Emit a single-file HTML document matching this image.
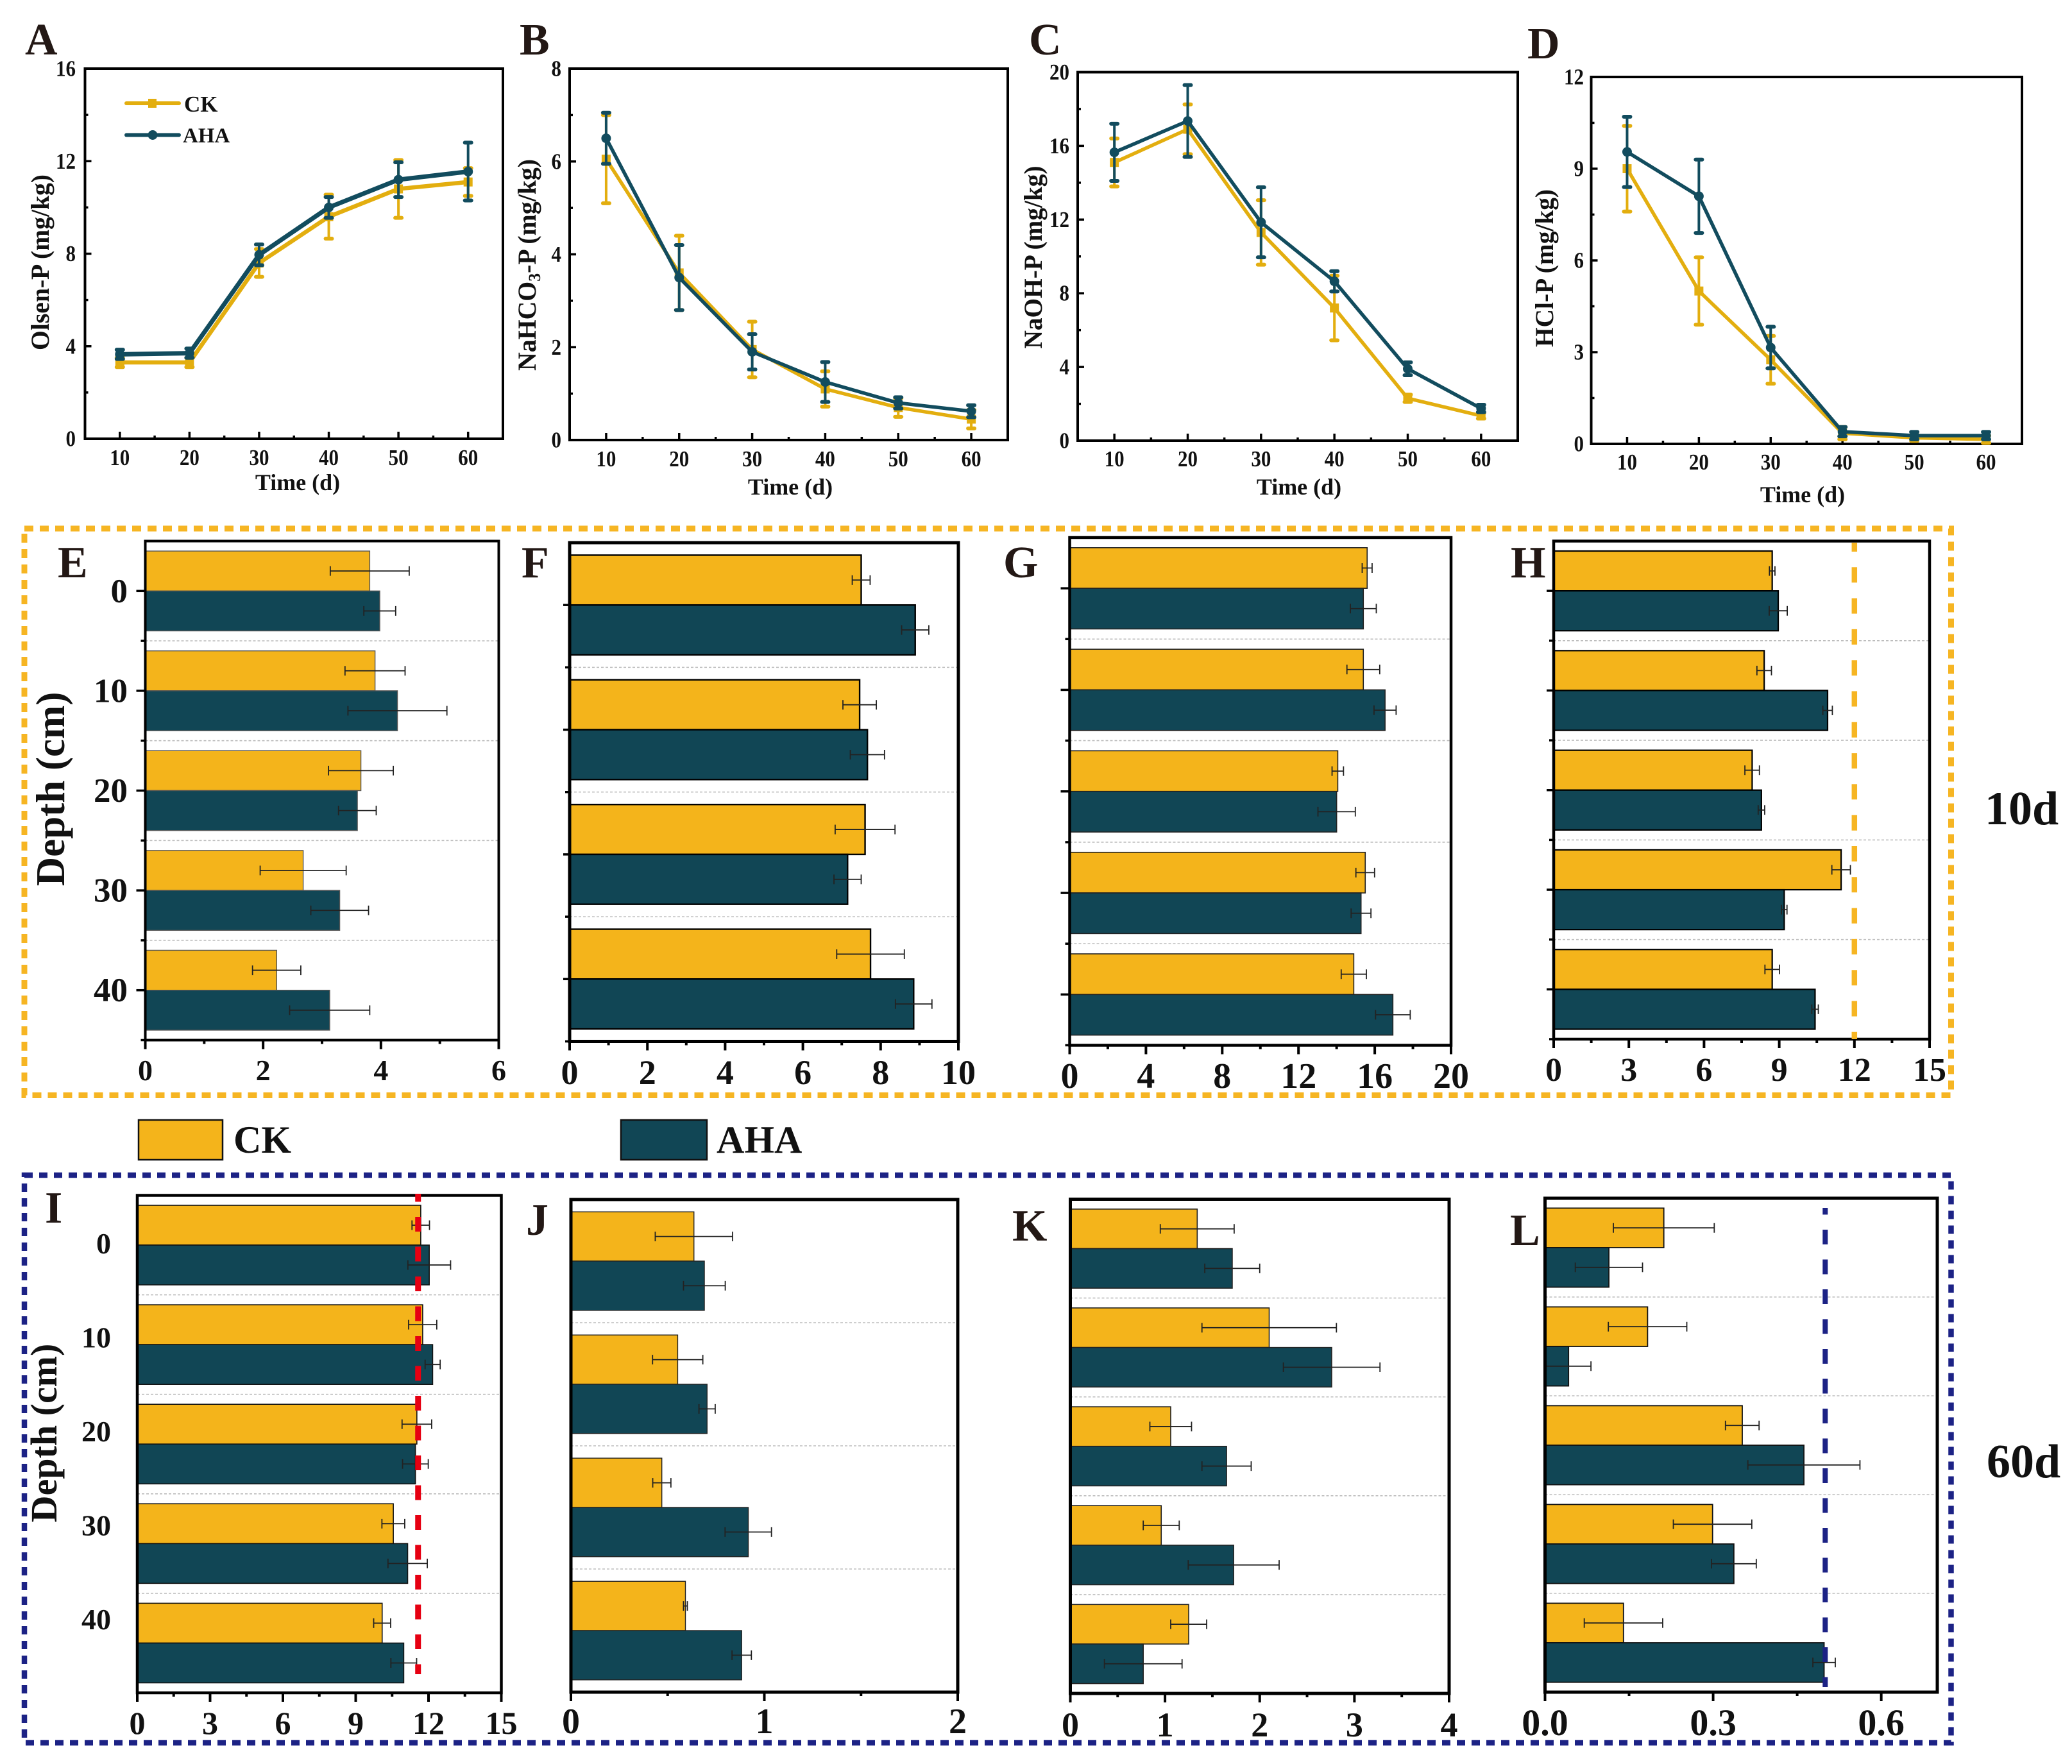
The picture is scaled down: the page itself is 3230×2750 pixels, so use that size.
<!DOCTYPE html>
<html lang="en">
<head>
<meta charset="utf-8">
<title>Soil phosphorus fractions CK vs AHA</title>
<style>
html,body{margin:0;padding:0;background:#fff;}
svg{display:block;}
text{font-family:"Liberation Serif",serif;font-weight:bold;fill:#111;}
.letter{font-size:70px;fill:#231815;}
.time{font-size:36px;text-anchor:middle;}
.ytitle{font-size:40px;text-anchor:middle;}
</style>
</head>
<body>
<svg id="figure" xmlns="http://www.w3.org/2000/svg" width="3230" height="2750" viewBox="0 0 3230 2750">
  <rect x="0" y="0" width="3230" height="2750" fill="#fff"/>
  <g id="charts"></g>
  <rect x="2294" y="1650" width="32" height="56" fill="#fff"/>

  <rect x="38" y="824" width="3003.5" height="883.5" fill="none" stroke="#f6b523" stroke-width="9" stroke-dasharray="14 10"/>
  <rect x="38" y="1832" width="3003.5" height="885" fill="none" stroke="#1c2285" stroke-width="8.5" stroke-dasharray="13 10"/>

  <text class="letter" x="39" y="85">A</text>
  <text class="letter" x="810" y="85">B</text>
  <text class="letter" x="1604" y="85">C</text>
  <text class="letter" x="2381" y="91">D</text>
  <text class="letter" x="90" y="900">E</text>
  <text class="letter" x="813" y="900">F</text>
  <text class="letter" x="1564" y="900">G</text>
  <text class="letter" x="2355" y="900">H</text>
  <text class="letter" x="70" y="1906">I</text>
  <text class="letter" x="820" y="1925">J</text>
  <text class="letter" x="1578" y="1934">K</text>
  <text class="letter" x="2354" y="1941">L</text>

  <text class="time" x="464" y="764">Time (d)</text>
  <text class="time" x="1232" y="771">Time (d)</text>
  <text class="time" x="2025" y="771">Time (d)</text>
  <text class="time" x="2810" y="783">Time (d)</text>

  <text class="ytitle" transform="translate(76,409) rotate(-90)" textLength="274" lengthAdjust="spacingAndGlyphs">Olsen-P (mg/kg)</text>
  <text class="ytitle" transform="translate(835,413) rotate(-90)" textLength="330" lengthAdjust="spacingAndGlyphs">NaHCO<tspan dy="7" font-size="26">3</tspan><tspan dy="-7">-P (mg/kg)</tspan></text>
  <text class="ytitle" transform="translate(1624,401) rotate(-90)" textLength="285" lengthAdjust="spacingAndGlyphs">NaOH-P (mg/kg)</text>
  <text class="ytitle" transform="translate(2421,418) rotate(-90)" textLength="246" lengthAdjust="spacingAndGlyphs">HCl-P (mg/kg)</text>

  <text transform="translate(100,1230) rotate(-90)" text-anchor="middle" font-size="63">Depth (cm)</text>
  <text transform="translate(88,2234) rotate(-90)" text-anchor="middle" font-size="58">Depth (cm)</text>

  <g>
    <line x1="197" y1="161" x2="279" y2="161" stroke="#e3ae0f" stroke-width="6" stroke-linecap="round"/>
    <rect x="231" y="154" width="13" height="14" fill="#e3ae0f"/>
    <text x="287" y="174" font-size="35">CK</text>
    <line x1="197" y1="210.5" x2="279" y2="210.5" stroke="#124c5e" stroke-width="6" stroke-linecap="round"/>
    <circle cx="238" cy="210.5" r="7.5" fill="#124c5e"/>
    <text x="285" y="222" font-size="33">AHA</text>
  </g>

  <g>
    <rect x="216" y="1746" width="131" height="62" fill="#f4b41b" stroke="#111" stroke-width="2.5"/>
    <text x="364" y="1797" font-size="60">CK</text>
    <rect x="968" y="1746" width="134" height="62" fill="#114655" stroke="#111" stroke-width="2.5"/>
    <text x="1117" y="1797" font-size="60">AHA</text>
  </g>

  <text x="3094" y="1285" font-size="74" fill="#231815">10d</text>
  <text x="3097" y="2303" font-size="74" fill="#231815">60d</text>
</svg>

<script>
const days = [10, 20, 30, 40, 50, 60];
const depths5 = [0, 10, 20, 30, 40];
const depths4 = [0, 10, 20, 30];

const aTicks = [0, 4, 8, 12, 16];
const aCk = [3.3, 3.3, 7.6, 9.6, 10.8, 11.1];
const aCkErr = [0.2, 0.2, 0.6, 0.95, 1.25, 0.6];
const aAha = [3.65, 3.7, 7.95, 10.0, 11.2, 11.55];
const aAhaErr = [0.2, 0.2, 0.45, 0.45, 0.75, 1.25];

const bTicks = [0, 2, 4, 6, 8];
const bCk = [6.05, 3.6, 1.95, 1.1, 0.7, 0.45];
const bCkErr = [0.95, 0.8, 0.6, 0.38, 0.2, 0.2];
const bAha = [6.5, 3.5, 1.9, 1.25, 0.8, 0.62];
const bAhaErr = [0.55, 0.7, 0.38, 0.43, 0.12, 0.13];

const cTicks = [0, 4, 8, 12, 16, 20];
const cCk = [15.1, 16.9, 11.3, 7.2, 2.3, 1.35];
const cCkErr = [1.3, 1.35, 1.75, 1.75, 0.2, 0.15];
const cAha = [15.65, 17.35, 11.85, 8.65, 3.9, 1.75];
const cAhaErr = [1.55, 1.95, 1.9, 0.55, 0.35, 0.2];

const dTicks = [0, 3, 6, 9, 12];
const dCk = [9.0, 5.0, 2.75, 0.35, 0.2, 0.15];
const dCkErr = [1.4, 1.1, 0.78, 0.2, 0.1, 0.12];
const dAha = [9.55, 8.1, 3.15, 0.4, 0.27, 0.27];
const dAhaErr = [1.15, 1.2, 0.68, 0.15, 0.12, 0.12];

const eTicks = ["0", "2", "4", "6"];
const eCk = [3.81, 3.9, 3.66, 2.68, 2.23];
const eCkErr = [0.67, 0.51, 0.55, 0.73, 0.41];
const eAha = [3.98, 4.28, 3.6, 3.3, 3.13];
const eAhaErr = [0.27, 0.84, 0.32, 0.49, 0.68];

const fTicks = ["0", "2", "4", "6", "8", "10"];
const fCk = [7.5, 7.46, 7.6, 7.74];
const fCkErr = [0.23, 0.43, 0.77, 0.87];
const fAha = [8.89, 7.66, 7.15, 8.85];
const fAhaErr = [0.35, 0.44, 0.35, 0.47];

const gTicks = ["0", "4", "8", "12", "16", "20"];
const gCk = [15.6, 15.4, 14.06, 15.5, 14.9];
const gCkErr = [0.26, 0.86, 0.3, 0.49, 0.66];
const gAha = [15.4, 16.54, 14.0, 15.28, 16.95];
const gAhaErr = [0.68, 0.58, 0.98, 0.52, 0.91];

const hTicks = ["0", "3", "6", "9", "12", "15"];
const hCk = [8.72, 8.4, 7.92, 11.47, 8.72];
const hCkErr = [0.11, 0.29, 0.29, 0.37, 0.29];
const hAha = [8.96, 10.93, 8.29, 9.2, 10.43];
const hAhaErr = [0.36, 0.19, 0.13, 0.11, 0.13];

const iTicks = ["0", "3", "6", "9", "12", "15"];
const iCk = [11.68, 11.76, 11.52, 10.55, 10.09];
const iCkErr = [0.36, 0.58, 0.61, 0.47, 0.35];
const iAha = [12.03, 12.17, 11.46, 11.14, 10.98];
const iAhaErr = [0.88, 0.31, 0.53, 0.81, 0.53];

const jTicks = ["0", "1", "2"];
const jCk = [0.636, 0.552, 0.47, 0.592];
const jCkErr = [0.2, 0.13, 0.047, 0.01];
const jAha = [0.69, 0.704, 0.917, 0.883];
const jAhaErr = [0.108, 0.042, 0.12, 0.05];

const kTicks = ["0", "1", "2", "3", "4"];
const kCk = [1.34, 2.1, 1.06, 0.96, 1.25];
const kCkErr = [0.39, 0.71, 0.22, 0.19, 0.19];
const kAha = [1.71, 2.76, 1.65, 1.725, 0.77];
const kAhaErr = [0.29, 0.51, 0.26, 0.48, 0.41];

const lTicks = ["0.0", "0.3", "0.6"];
const lCk = [0.212, 0.183, 0.352, 0.299, 0.14];
const lCkErr = [0.09, 0.07, 0.03, 0.07, 0.07];
const lAha = [0.114, 0.042, 0.462, 0.337, 0.498];
const lAhaErr = [0.06, 0.04, 0.1, 0.04, 0.02];

const NS = 'http://www.w3.org/2000/svg';
const root = document.getElementById('charts');
const CK_LINE = '#e3ae0f', AHA_LINE = '#124c5e', CK_BAR = '#f4b41b', AHA_BAR = '#114655';

function make(parent, tag, attrs, txt) {
  const el = document.createElementNS(NS, tag);
  for (const k in attrs) el.setAttribute(k, attrs[k]);
  if (txt !== undefined) el.textContent = txt;
  parent.appendChild(el);
  return el;
}

function drawSeries(g, name, xs, vals, errs, sx, sy, color, lineW, circle) {
  const series = make(g, 'g', {});
  
  
  const line = make(series, 'polyline', {
    points: xs.map((x, i) => sx(x) + ',' + sy(vals[i])).join(' '),
    fill: 'none', stroke: color, 'stroke-width': lineW, 'stroke-linejoin': 'round'
  });
  
  
  xs.forEach((x, i) => {
    const px = sx(x), hi = sy(vals[i] + errs[i]), lo = sy(vals[i] - errs[i]);
    const err = make(series, 'line', { x1: px, x2: px, y1: hi, y2: lo, stroke: color, 'stroke-width': 4 });
    
    
    const capHi = make(series, 'line', { x1: px - 5, x2: px + 5, y1: hi, y2: hi, stroke: color, 'stroke-width': 6, 'stroke-linecap': 'round' });
    
    
    const capLo = make(series, 'line', { x1: px - 5, x2: px + 5, y1: lo, y2: lo, stroke: color, 'stroke-width': 6, 'stroke-linecap': 'round' });
    
    
    let mark;
    if (circle) {
      mark = make(series, 'circle', { cx: px, cy: sy(vals[i]), r: 7.5, fill: color });
    } else {
      mark = make(series, 'rect', { x: px - 7, y: sy(vals[i]) - 7, width: 14, height: 14, fill: color });
    }
    
    
  });
}

function drawLinePanel(cfg, xVals, ck, ckErr, aha, ahaErr, ticks) {
  const g = make(root, 'g', {});
  
  
  const sx = v => cfg.left + (v - 5) / 60 * (cfg.right - cfg.left);
  const ymax = ticks[ticks.length - 1];
  const sy = v => cfg.bottom - v / ymax * (cfg.bottom - cfg.top);
  const frame = make(g, 'rect', { x: cfg.left, y: cfg.top, width: cfg.right - cfg.left, height: cfg.bottom - cfg.top, fill: 'none', stroke: '#000', 'stroke-width': 4 });
  
  
  xVals.forEach((d, i) => {
    const t = make(g, 'line', { x1: sx(d), x2: sx(d), y1: cfg.bottom, y2: cfg.bottom - 11, stroke: '#000', 'stroke-width': 3.5 });
    
    
    const lab = make(g, 'text', { x: sx(d), y: cfg.xLabelY, 'text-anchor': 'middle', 'font-size': 35, textLength: 31, lengthAdjust: 'spacingAndGlyphs' }, String(d));
    
    
    if (i < xVals.length - 1) {
      const m = make(g, 'line', { x1: sx(d + 5), x2: sx(d + 5), y1: cfg.bottom, y2: cfg.bottom - 5, stroke: '#000', 'stroke-width': 3.5 });
      
      
    }
  });
  ticks.forEach((v, i) => {
    if (i > 0 && i < ticks.length - 1) {
      const t = make(g, 'line', { x1: cfg.left, x2: cfg.left + 10, y1: sy(v), y2: sy(v), stroke: '#000', 'stroke-width': 3.5 });
      
      
    }
    const label = String(v);
    const lab = make(g, 'text', { x: cfg.yLabelX, y: sy(v) + 11.5, 'text-anchor': 'end', 'font-size': 35, textLength: 15.5 * label.length, lengthAdjust: 'spacingAndGlyphs' }, label);
    
    
    if (i < ticks.length - 1) {
      const m = make(g, 'line', { x1: cfg.left, x2: cfg.left + 5, y1: sy((v + ticks[i + 1]) / 2), y2: sy((v + ticks[i + 1]) / 2), stroke: '#000', 'stroke-width': 3.5 });
      
      
    }
  });
  drawSeries(g, 'ck', xVals, ck, ckErr, sx, sy, CK_LINE, cfg.ckW, false);
  drawSeries(g, 'aha', xVals, aha, ahaErr, sx, sy, AHA_LINE, cfg.ahaW, true);
}

function drawBarPanel(cfg, depths, ck, ckErr, aha, ahaErr, ticks) {
  const g = make(root, 'g', {});
  
  
  const sx = v => cfg.left + v / cfg.xmax * (cfg.right - cfg.left);
  const dmax = depths[depths.length - 1] + 5;
  const sy = d => cfg.top + (d + 5) / (dmax + 5) * (cfg.bottom - cfg.top);

  depths.forEach((d, i) => {
    if (i < depths.length - 1) {
      const grid = make(g, 'line', { x1: cfg.left, x2: cfg.right, y1: sy(d + 5), y2: sy(d + 5), stroke: '#bdbdbd', 'stroke-width': 1.6, 'stroke-dasharray': '4 3' });
      
      
    }
    const ckBar = make(g, 'rect', { x: cfg.left, y: sy(d - 4), width: sx(ck[i]) - cfg.left, height: sy(d) - sy(d - 4), fill: CK_BAR, stroke: cfg.barStroke, 'stroke-width': cfg.barW });
    
    
    const ahaBar = make(g, 'rect', { x: cfg.left, y: sy(d), width: sx(aha[i]) - cfg.left, height: sy(d + 4) - sy(d), fill: AHA_BAR, stroke: cfg.barStroke, 'stroke-width': cfg.barW });
    
    
    const pairs = [[ck[i], ckErr[i], d - 2], [aha[i], ahaErr[i], d + 2]];
    pairs.forEach(p => {
      const y = sy(p[2]);
      const e = make(g, 'path', {
        d: 'M' + sx(p[0] - p[1]) + ' ' + y + 'H' + sx(p[0] + p[1]) +
           'M' + sx(p[0] - p[1]) + ' ' + (y - 7.5) + 'V' + (y + 7.5) +
           'M' + sx(p[0] + p[1]) + ' ' + (y - 7.5) + 'V' + (y + 7.5),
        fill: 'none', stroke: '#222', 'stroke-width': 1.8
      });
      
      
    });
    if (cfg.majorOut) {
      const t = make(g, 'line', { x1: cfg.left, x2: cfg.left - cfg.majorOut, y1: sy(d), y2: sy(d), stroke: '#000', 'stroke-width': 3.5 });
      
      
      const m = make(g, 'line', { x1: cfg.left, x2: cfg.left - 7, y1: sy(d + 5), y2: sy(d + 5), stroke: '#000', 'stroke-width': 3.5 });
      
      
    }
    if (cfg.depthLabels) {
      const ly = cfg.labelAtTick ? sy(d) : cfg.labelStart + d * cfg.labelStep;
      const lab = make(g, 'text', { x: cfg.depthX, y: ly + cfg.depthFont * 0.33, 'text-anchor': 'end', 'font-size': cfg.depthFont }, String(d));
      
      
    }
  });

  const frame = make(g, 'rect', { x: cfg.left, y: cfg.top, width: cfg.right - cfg.left, height: cfg.bottom - cfg.top, fill: 'none', stroke: '#000', 'stroke-width': cfg.frameW });
  
  

  ticks.forEach((label, i) => {
    const v = parseFloat(label);
    const t = make(g, 'line', { x1: sx(v), x2: sx(v), y1: cfg.bottom, y2: cfg.bottom + 14, stroke: '#000', 'stroke-width': 4 });
    
    
    const lab = make(g, 'text', { x: sx(v), y: cfg.tickY, 'text-anchor': 'middle', 'font-size': cfg.tickFont }, label);
    
    
    if (i < ticks.length - 1) {
      const mid = (v + parseFloat(ticks[i + 1])) / 2;
      const m = make(g, 'line', { x1: sx(mid), x2: sx(mid), y1: cfg.bottom, y2: cfg.bottom + 6, stroke: '#000', 'stroke-width': 4 });
      
      
    }
  });

  if (cfg.refValue !== undefined) {
    const ref = make(g, 'line', {
      x1: sx(cfg.refValue), x2: sx(cfg.refValue), y1: cfg.refTop, y2: cfg.refBottom,
      stroke: cfg.refColor, 'stroke-width': cfg.refW,
      'stroke-dasharray': cfg.refDash, 'stroke-dashoffset': cfg.refOffset
    });
    
    
  }
}

drawLinePanel({ id: 'a', left: 132.5, right: 784, top: 107, bottom: 684, xLabelY: 725, yLabelX: 118, ckW: 6.5, ahaW: 7 }, days, aCk, aCkErr, aAha, aAhaErr, aTicks);
drawLinePanel({ id: 'b', left: 888, right: 1571, top: 107, bottom: 686, xLabelY: 727, yLabelX: 875, ckW: 5.5, ahaW: 5.5 }, days, bCk, bCkErr, bAha, bAhaErr, bTicks);
drawLinePanel({ id: 'c', left: 1680, right: 2366, top: 112.5, bottom: 687, xLabelY: 727, yLabelX: 1667, ckW: 5.5, ahaW: 5.5 }, days, cCk, cCkErr, cAha, cAhaErr, cTicks);
drawLinePanel({ id: 'd', left: 2480.5, right: 3152, top: 120, bottom: 692, xLabelY: 732, yLabelX: 2469, ckW: 5.5, ahaW: 5.5 }, days, dCk, dCkErr, dAha, dAhaErr, dTicks);

drawBarPanel({ id: 'e', left: 226.5, right: 777.5, top: 843.5, bottom: 1621.5, xmax: 6, barStroke: '#555', barW: 1.4, frameW: 4, majorOut: 14, tickY: 1684, tickFont: 46, depthLabels: true, labelAtTick: true, depthX: 199, depthFont: 53 }, depths5, eCk, eCkErr, eAha, eAhaErr, eTicks);
drawBarPanel({ id: 'f', left: 888, right: 1494, top: 846, bottom: 1623.5, xmax: 10, barStroke: '#000', barW: 2.4, frameW: 5, majorOut: 10, tickY: 1690, tickFont: 54 }, depths4, fCk, fCkErr, fAha, fAhaErr, fTicks);
drawBarPanel({ id: 'g', left: 1667.5, right: 2262, top: 838, bottom: 1629.5, xmax: 20, barStroke: '#222', barW: 1.6, frameW: 4.5, majorOut: 14, tickY: 1696, tickFont: 56 }, depths5, gCk, gCkErr, gAha, gAhaErr, gTicks);
drawBarPanel({ id: 'h', left: 2422, right: 3008, top: 843.5, bottom: 1620, xmax: 15, barStroke: '#000', barW: 2.2, frameW: 4.5, majorOut: 11, tickY: 1685, tickFont: 52, refValue: 12, refTop: 846, refBottom: 1620, refColor: '#f6b523', refW: 8.5, refDash: '24 24.3', refOffset: 10 }, depths5, hCk, hCkErr, hAha, hAhaErr, hTicks);
drawBarPanel({ id: 'i', left: 214, right: 781.5, top: 1863.5, bottom: 2639, xmax: 15, barStroke: '#111', barW: 1.6, frameW: 4.5, majorOut: 0, tickY: 2703, tickFont: 50, depthLabels: true, labelAtTick: false, labelStart: 1939, labelStep: 14.65, depthX: 173, depthFont: 46, refValue: 11.57, refTop: 1861, refBottom: 2610, refColor: '#e60012', refW: 9, refDash: '23 23.5', refOffset: 10.5 }, depths5, iCk, iCkErr, iAha, iAhaErr, iTicks);
drawBarPanel({ id: 'j', left: 890, right: 1493, top: 1870, bottom: 2638, xmax: 2, barStroke: '#222', barW: 1.4, frameW: 5, majorOut: 0, tickY: 2702, tickFont: 56 }, depths4, jCk, jCkErr, jAha, jAhaErr, jTicks);
drawBarPanel({ id: 'k', left: 1668.5, right: 2259, top: 1869.5, bottom: 2640, xmax: 4, barStroke: '#222', barW: 1.6, frameW: 5, majorOut: 0, tickY: 2707, tickFont: 54 }, depths5, kCk, kCkErr, kAha, kAhaErr, kTicks);
drawBarPanel({ id: 'l', left: 2408.5, right: 3020, top: 1868, bottom: 2638, xmax: 0.7, barStroke: '#111', barW: 1.8, frameW: 5, majorOut: 0, tickY: 2705, tickFont: 58, refValue: 0.5, refTop: 1883, refBottom: 2630, refColor: '#1c2285', refW: 8, refDash: '23 23.5', refOffset: 12.5 }, depths5, lCk, lCkErr, lAha, lAhaErr, lTicks);
</script>
</body>
</html>
